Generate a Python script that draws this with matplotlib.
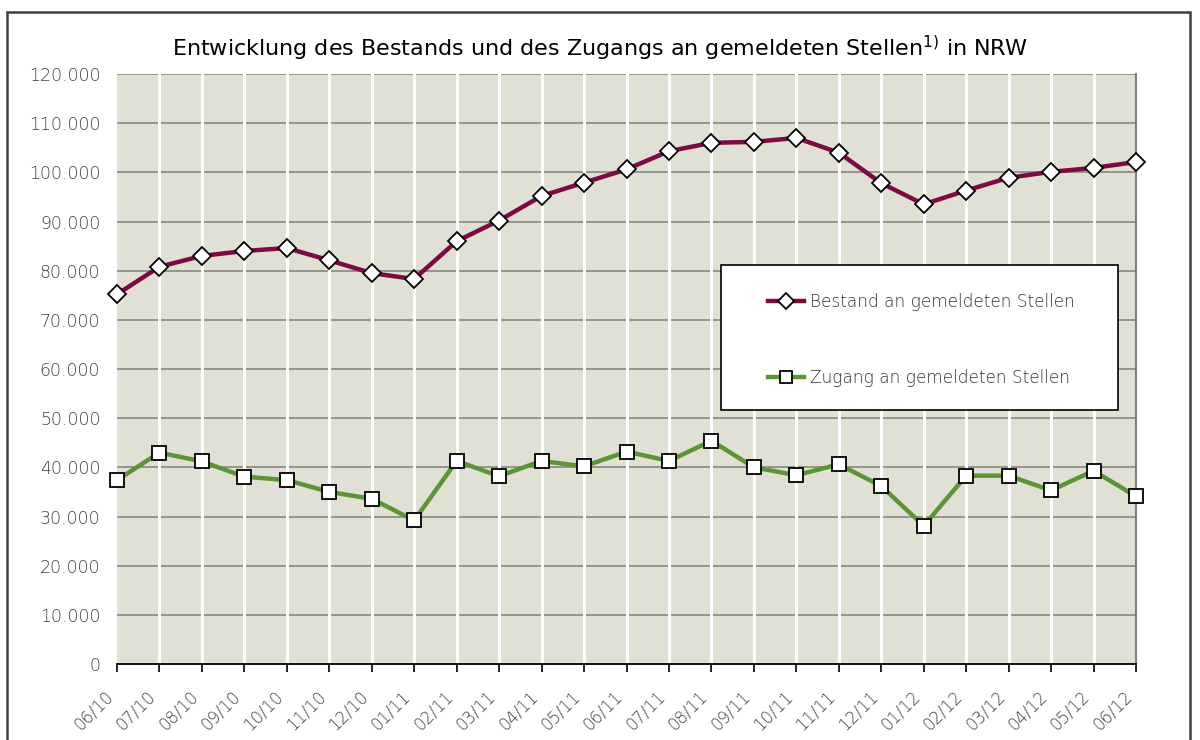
import numpy as np
import matplotlib
matplotlib.use('Agg')
import matplotlib.pyplot as plt
from matplotlib.ticker import FuncFormatter
from matplotlib.patches import Rectangle
from matplotlib.transforms import ScaledTranslation

months = ['06/10', '07/10', '08/10', '09/10', '10/10', '11/10', '12/10',
          '01/11', '02/11', '03/11', '04/11', '05/11', '06/11', '07/11',
          '08/11', '09/11', '10/11', '11/11', '12/11', '01/12', '02/12',
          '03/12', '04/12', '05/12', '06/12']

bestand = [75200, 80800, 83000, 84000, 84600, 82100, 79500, 78300, 86000,
           90200, 95200, 97900, 100600, 104300, 106000, 106200, 107000,
           104000, 97800, 93500, 96300, 98900, 100100, 100900, 102100]

zugang = [37400, 43000, 41200, 38100, 37400, 35000, 33600, 29200, 41300,
          38200, 41300, 40200, 43200, 41300, 45400, 40000, 38400, 40600,
          36200, 28100, 38300, 38300, 35300, 39300, 34100]

yticks = np.arange(0, 120001, 10000)

plt.rcParams['font.family'] = ['DejaVu Sans']
plt.rcParams['font.weight'] = 'light'
plt.rcParams['mathtext.default'] = 'regular'

W, H = 1200, 740
fig = plt.figure(figsize=(12, 7.4), dpi=100)
fig.patch.set_facecolor('white')

# outer frame
fig.patches.append(Rectangle((7/W, -0.05), (1190-7)/W, (H-12)/H + 0.05,
                             transform=fig.transFigure, fill=False,
                             edgecolor='#404040', linewidth=1.8))

ax = fig.add_axes([117/W, (H-664)/H, (1136-117)/W, (664-74)/H])
ax.set_facecolor('#e0e1d4')

x = np.arange(len(months))

# grid: gray horizontals, white verticals over them
for yv in yticks[1:]:
    ax.axhline(yv, color='#8e8e86', lw=1.3, zorder=0.5)
for xv in x[1:-1]:
    ax.axvline(xv, color='white', lw=2.2, zorder=0.6)

ax.plot(x, bestand, color='#7d0a42', lw=3.2, marker='D', ms=9,
        mfc='white', mec='black', mew=1.3, zorder=3, clip_on=False,
        label='Bestand an gemeldeten Stellen')
ax.plot(x, zugang, color='#5b9538', lw=3.2, marker='s', ms=10,
        mfc='white', mec='black', mew=1.3, zorder=3, clip_on=False,
        label='Zugang an gemeldeten Stellen')

ax.set_xlim(0, len(months) - 1)
ax.set_ylim(0, 120000)
ax.set_yticks(yticks)
ax.yaxis.set_major_formatter(FuncFormatter(lambda v, p: f'{int(v):,}'.replace(',', '.')))
ax.set_xticks(x)
ax.set_xticklabels(months, rotation=45, ha='right', va='top')
for lab in ax.get_xticklabels():
    lab.set_transform(lab.get_transform() + ScaledTranslation(-0.08, 0, fig.dpi_scale_trans))

ax.tick_params(axis='y', length=0, pad=12, labelsize=12.5, labelcolor='#404040')
ax.tick_params(axis='x', length=6, width=1.2, direction='out', pad=11,
               labelsize=12, labelcolor='#404040')

for s in ['top', 'left']:
    ax.spines[s].set_visible(False)
ax.spines['right'].set_color('#808080')
ax.spines['right'].set_linewidth(1.5)
ax.spines['bottom'].set_color('black')
ax.spines['bottom'].set_linewidth(1.3)

fig.text(0.5, (H-48)/H, 'Entwicklung des Bestands und des Zugangs an gemeldeten Stellen$^{1)}$ in NRW',
         fontsize=16, fontweight='normal', color='black', ha='center', va='center')

# legend box
ax.add_patch(Rectangle((721/W, (H-410)/H), (1118-721)/W, (410-265)/H,
                       transform=fig.transFigure, facecolor='white',
                       edgecolor='black', linewidth=1.2, zorder=4, clip_on=False))
leg = ax.legend(loc='upper left', bbox_to_anchor=(768/W, (H-293)/H),
                bbox_transform=fig.transFigure, frameon=False, fontsize=12.2,
                handlelength=2.1, handletextpad=0.35, labelspacing=3.4,
                borderpad=0, borderaxespad=0, markerscale=0.85)
leg.set_zorder(5)
for t in leg.get_texts():
    t.set_color('#333333')

fig.savefig('out.png', dpi=100)
